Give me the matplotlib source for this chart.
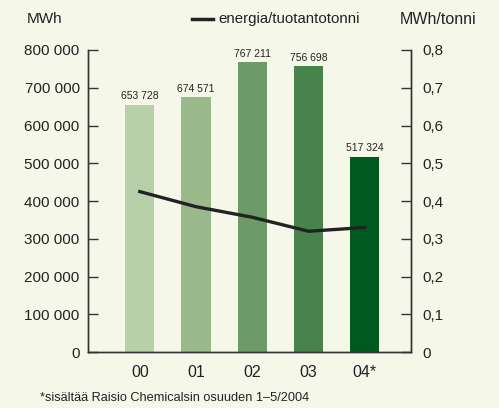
import numpy as np
import matplotlib.pyplot as plt

plt.rcParams['font.family'] = ['Liberation Sans', 'DejaVu Sans']

years = ['00', '01', '02', '03', '04*']
energy_mwh = [653728, 674571, 767211, 756698, 517324]
energy_per_tonne = [0.425, 0.385, 0.357, 0.320, 0.330]
bar_labels = ['653 728', '674 571', '767 211', '756 698', '517 324']
left_ticks = [0, 100000, 200000, 300000, 400000, 500000, 600000, 700000, 800000]
left_ticklabels = ['0', '100 000', '200 000', '300 000', '400 000',
                   '500 000', '600 000', '700 000', '800 000']
right_ticks = [0, 0.1, 0.2, 0.3, 0.4, 0.5, 0.6, 0.7, 0.8]
right_ticklabels = ['0', '0,1', '0,2', '0,3', '0,4', '0,5', '0,6', '0,7', '0,8']

bg = '#f5f8e9'
bar_colors = ['#b8d0a9', '#9bba8b', '#6c9b69', '#47834b', '#005a20']
spine_col = '#333333'

fig = plt.figure(figsize=(4.99, 4.08), dpi=100, facecolor=bg)
ax = fig.add_axes([0.1764, 0.137, 0.6472, 0.7405])
ax.set_facecolor(bg)
ax2 = ax.twinx()

x = np.arange(len(years))
ax.bar(x, energy_mwh, width=0.52, color=bar_colors, zorder=2)
for xi, v, lab in zip(x, energy_mwh, bar_labels):
    ax.text(xi, v + 10000, lab, ha='center', va='bottom', fontsize=7.5, color='#222222')

ax2.plot(x, energy_per_tonne, color='#222222', lw=2.4, zorder=3)

ax.set_xlim(-0.92, 4.82)
ax.set_ylim(0, 800000)
ax2.set_ylim(0, 0.8)

ax.set_yticks(left_ticks)
ax.set_yticklabels(left_ticklabels)
ax2.set_yticks(right_ticks)
ax2.set_yticklabels(right_ticklabels)
ax.set_xticks(x)
ax.set_xticklabels(years)

for a in (ax, ax2):
    a.spines['top'].set_visible(False)
    for s in ('left', 'right', 'bottom'):
        a.spines[s].set_color(spine_col)
        a.spines[s].set_linewidth(1.0)
ax.tick_params(axis='y', direction='in', length=7, width=1, color=spine_col,
               labelsize=11, pad=6, labelcolor='#222222')
ax2.tick_params(axis='y', direction='in', length=7, width=1, color=spine_col,
                labelsize=11, pad=8, labelcolor='#222222')
ax.tick_params(axis='x', length=0, labelsize=11.5, pad=9, labelcolor='#222222')

fig.text(27 / 499, 1 - 19 / 408, 'MWh', fontsize=11, va='center', ha='left', color='#222222')
fig.text(400 / 499, 1 - 19 / 408, 'MWh/tonni', fontsize=11.5, va='center', ha='left', color='#222222')
fig.lines.append(plt.Line2D([192 / 499, 213 / 499], [1 - 19 / 408, 1 - 19 / 408],
                            transform=fig.transFigure, color='#222222', lw=2.5))
fig.text(218 / 499, 1 - 19 / 408, 'energia/tuotantotonni', fontsize=10.8, va='center',
         ha='left', color='#222222')
fig.text(40 / 499, 1 - 398 / 408, '*sisältää Raisio Chemicalsin osuuden 1–5/2004',
         fontsize=9.2, va='center', ha='left', color='#222222')

fig.savefig('out.png', dpi=100, facecolor=bg)
